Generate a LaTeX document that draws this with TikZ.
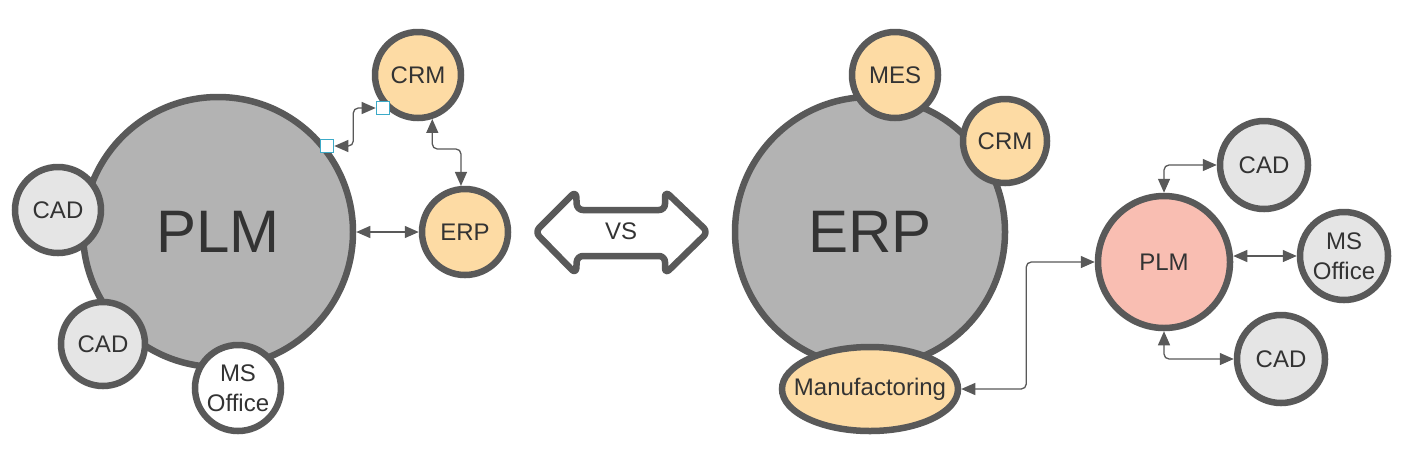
\documentclass[tikz,border=0pt]{standalone}
\usepackage{fontspec}
\setmainfont{Liberation Sans}
\usetikzlibrary{arrows.meta,shapes.geometric}
\definecolor{edge}{RGB}{89,89,89}
\definecolor{txt}{RGB}{51,51,51}
\definecolor{bigfill}{RGB}{179,179,179}
\definecolor{lightfill}{RGB}{229,229,229}
\definecolor{orangefill}{RGB}{253,219,164}
\definecolor{salmon}{RGB}{249,190,178}
\definecolor{handle}{RGB}{60,170,200}
\begin{document}
\begin{tikzpicture}[x=1pt,y=-1pt,
  blob/.style={circle, draw=edge, line width=6.5pt, inner sep=0pt, text=txt, font=\fontsize{24}{30}\selectfont, align=center},
  bigblob/.style={blob, fill=bigfill, minimum size=270pt, font=\fontsize{60}{70}\selectfont},
  grayblob/.style={blob, fill=lightfill, minimum size=86pt},
  orangeblob/.style={blob, fill=orangefill, minimum size=86pt},
  whiteblob/.style={blob, fill=white, minimum size=86pt},
  conn/.style={draw=edge, line width=1.3pt, rounded corners=5pt, {Triangle[length=14pt,width=12pt]}-{Triangle[length=14pt,width=12pt]}},
  handlebox/.style={rectangle, draw=handle, fill=white, line width=1.6pt, minimum size=13pt, inner sep=0pt}
]
\useasboundingbox[fill=white] (0,0) rectangle (1404,451);

% ---------- left: PLM centric ----------
\node[bigblob] (plmL) at (218,232) {PLM};
\node[orangeblob] (crmL) at (418,75) {CRM};
\node[orangeblob] (erpL) at (465,232) {ERP};
\node[grayblob] (cadL1) at (58,210) {CAD};
\node[grayblob, minimum size=84pt] (cadL2) at (103,344) {CAD};
\node[whiteblob] (msL) at (238,388) {MS\\Office};

\node[handlebox] (hA) at (327,146) {};
\node[handlebox] (hB) at (383,108) {};

\draw[conn] (hA.east) -- ++(19,0) |- (hB.west);
\draw[conn] (crmL.-72) -- ++(0,30) -| (erpL.95);
\draw[conn] (plmL.east) -- (erpL.west);

% ---------- VS arrow ----------
\draw[edge, line width=6.5pt, fill=white, rounded corners=6pt, line join=round]
  (535,232) -- (576,191) -- (577,210) -- (665,210) -- (665,191) -- (708,232)
  -- (665,274) -- (665,256) -- (577,256) -- (576,274) -- cycle;
\node[text=txt, font=\fontsize{24}{28}\selectfont] (vs) at (621,231) {VS};

% ---------- right: ERP centric ----------
\node[bigblob] (erpR) at (870,232) {ERP};
\node[orangeblob] (mes) at (895,75) {MES};
\node[orangeblob, minimum size=84pt] (crmR) at (1005,141) {CRM};
\node[ellipse, draw=edge, line width=6.5pt, fill=orangefill, inner sep=0pt,
      minimum width=176pt, minimum height=84pt,
      label={[text=txt, font=\fontsize{24}{28}\selectfont]center:Manufactoring}] (manu) at (870,389) {};

\node[blob, fill=salmon, minimum size=132pt] (plmR) at (1164,262) {PLM};
\node[grayblob, minimum size=88pt] (cadR1) at (1264,165) {CAD};
\node[grayblob, minimum size=88pt] (msR) at (1344,256) {MS\\Office};
\node[grayblob, minimum size=88pt] (cadR2) at (1281,359) {CAD};

\draw[conn] (plmR.north) |- (cadR1.west);
\draw[conn] (plmR.east |- msR.west) -- (msR.west);
\draw[conn] (plmR.south) |- (cadR2.west);
\draw[conn] (manu.east) -- ++(65,0) |- (plmR.west);
\end{tikzpicture}
\end{document}
